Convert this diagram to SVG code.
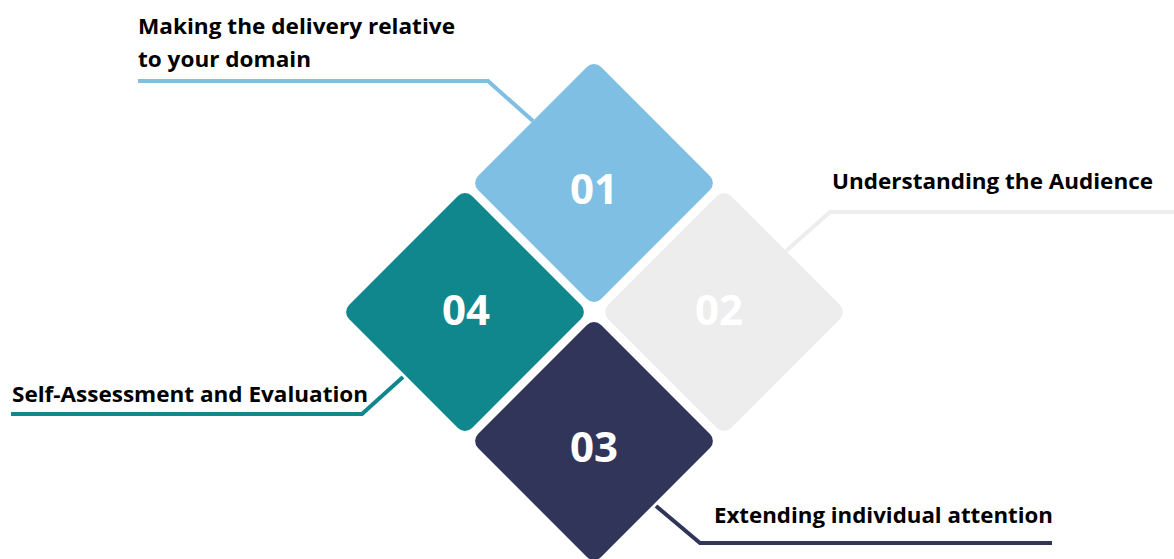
<svg xmlns="http://www.w3.org/2000/svg" width="1174" height="559" viewBox="0 0 1174 559">
<style>
.lbl{font-family:"Open Sans","Liberation Sans",sans-serif;font-weight:700;font-size:22px;fill:#000}
.num{font-family:"Open Sans","Liberation Sans",sans-serif;font-weight:700;font-size:42px;fill:#fff;text-anchor:middle}
.con{fill:none;stroke-width:4;stroke-linejoin:miter}
</style>
<defs>
<rect id="dia" x="-87" y="-87" width="174" height="174" rx="10" ry="10"/>
</defs>
<rect width="1174" height="559" fill="#fff"/>
<g id="connectors">
<polyline class="con" stroke="#7FBFE3" points="138,81 488,81 533,121"/>
<polyline class="con" stroke="#EDEDED" points="1174,212 830,212 786,251"/>
<polyline class="con" stroke="#31355A" points="1052,543 700,543 656,506"/>
<polyline class="con" stroke="#0F878C" points="11,414 362,414 403,377"/>
</g>
<g id="node01">
<use href="#dia" fill="#7FBFE3" transform="translate(594,183) rotate(45)"/>
<text class="num" x="594" y="204">01</text>
</g>
<g id="node02">
<use href="#dia" fill="#EDEDED" transform="translate(724,312) rotate(45)"/>
<text class="num" x="719" y="325">02</text>
</g>
<g id="node03">
<use href="#dia" fill="#31355A" transform="translate(594,441) rotate(45)"/>
<text class="num" x="594" y="462">03</text>
</g>
<g id="node04">
<use href="#dia" fill="#0F878C" transform="translate(465,312) rotate(45)"/>
<text class="num" x="466" y="325">04</text>
</g>
<g id="labels">
<text class="lbl" x="138" y="34" textLength="317" lengthAdjust="spacingAndGlyphs">Making the delivery relative</text>
<text class="lbl" x="138" y="67" textLength="173" lengthAdjust="spacingAndGlyphs">to your domain</text>
<text class="lbl" x="832" y="189" textLength="321" lengthAdjust="spacingAndGlyphs">Understanding the Audience</text>
<text class="lbl" x="12" y="402" textLength="356" lengthAdjust="spacingAndGlyphs">Self-Assessment and Evaluation</text>
<text class="lbl" x="714" y="523" textLength="339" lengthAdjust="spacingAndGlyphs">Extending individual attention</text>
</g>
</svg>
